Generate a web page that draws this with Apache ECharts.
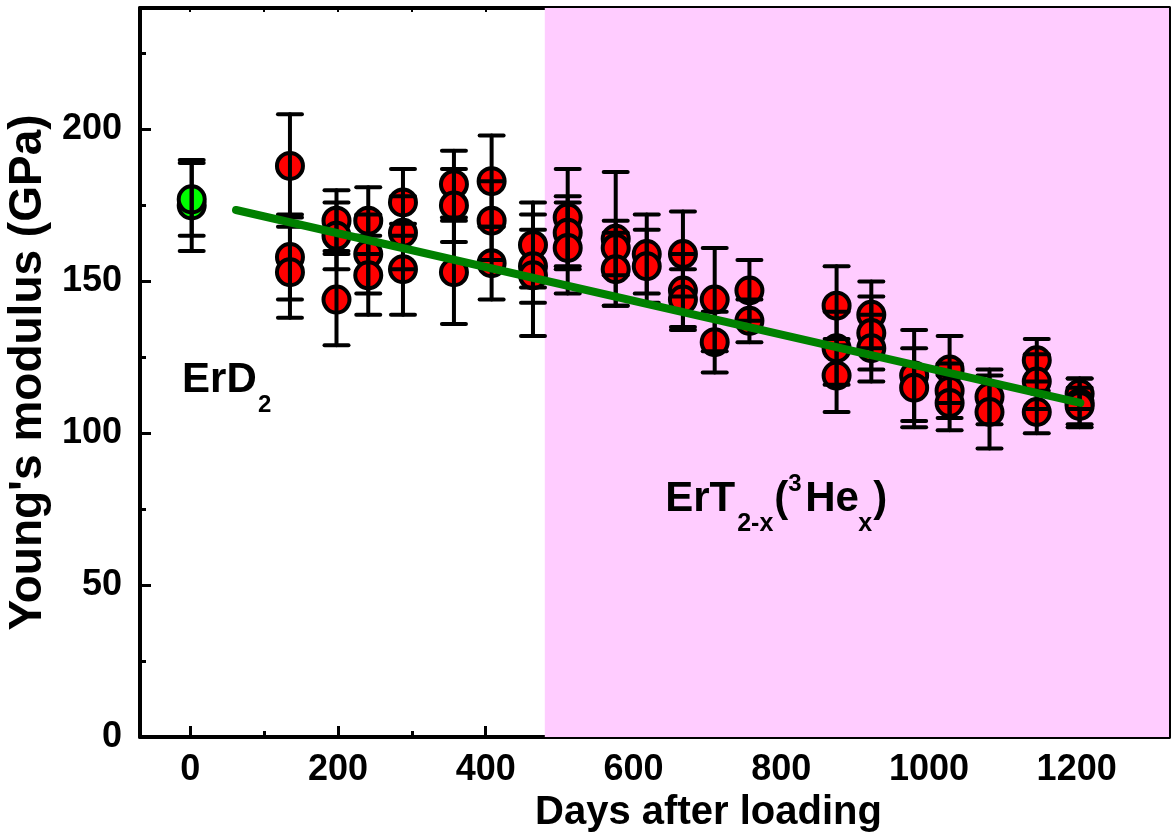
<!DOCTYPE html>
<html>
<head>
<meta charset="utf-8">
<script src="https://cdn.jsdelivr.net/npm/echarts@6/dist/echarts.min.js"></script>
<style>html,body{margin:0;padding:0;background:#fff}#c{width:1173px;height:837px}</style>
</head>
<body>
<div id="c"></div>
<script>
// ---- data ----
const redDays    = [135,135,135, 198,198,198, 241,241,241, 288,288,288, 357,357,357, 408,408,408, 464,464,464, 511,511,511, 576,576,576, 618,618, 667,667,667, 710,710, 757,757, 875,875,875, 922,922,922, 980,980, 1028,1028,1028, 1082,1082, 1146,1146,1146, 1204,1204,1204];
const redModulus = [188,158,153, 170,165,144, 170,159,152, 176,166,154, 182,175,153, 183,170,156, 162,155,152, 171,166,161, 164,161,154, 159,155, 159,147,144, 144,130, 147,137, 142,128,119, 139,133,128, 119,115, 121,114,110, 112,107, 124,117,107, 113,110,109];
const redErr     = [17,14,15, 10,11,15, 11,13,13, 11,12,15, 11,12,17, 15,13,12, 14,12,20, 16,12,15, 22,9,12, 13,12, 14,12,10, 17,10, 10,7, 13,12,12, 11,12,11, 15,13, 11,9,9, 9,12, 7,9,7, 5,8,6];
const refDays    = [2, 2];
const refModulus = [175, 177];
const refErr     = [15, 12];
const fitDays    = [62, 1205];
const fitModulus = [173.5, 110];
const xLabelVals = [0,200,400,600,800,1000,1200];
const xMinorVals = [100,300,500,700,900,1100,1300];
const xTopVals   = [0,100,200,300,400,500,600,700,800,900,1000,1100,1200,1300];
const yLabelVals = [0,50,100,150,200];
const yMinorVals = [25,75,125,175,225];
const tritiumStart = 480;

const X_MIN = -68, X_MAX = 1325, Y_MIN = 0, Y_MAX = 240;
const FONT = "'Liberation Sans', Arial, Helvetica, sans-serif";

const redPts = redDays.map((d,i)=>[d, redModulus[i]]);
const refPts = refDays.map((d,i)=>[d, refModulus[i]]);
const errData = redDays.map((d,i)=>[d, redModulus[i]-redErr[i], redModulus[i]+redErr[i]])
  .concat(refDays.map((d,i)=>[d, refModulus[i]-refErr[i], refModulus[i]+refErr[i]]));
const fitPts = fitDays.map((d,i)=>[d, fitModulus[i]]);

const chart = echarts.init(document.getElementById('c'), null, {renderer:'canvas'});
const plain = v => String(v);

const option = {
  animation:false,
  backgroundColor:'#fff',
  grid:{left:140, right:4, top:8, bottom:100, containLabel:false, outerBoundsMode:'none'},
  xAxis:[
    {type:'value', position:'bottom', min:X_MIN, max:X_MAX,
     axisLine:{show:true, onZero:false, lineStyle:{color:'#000', width:4}},
     axisTick:{show:true, inside:true, length:11, lineStyle:{color:'#000', width:3}, customValues:xLabelVals},
     axisLabel:{show:true, customValues:xLabelVals, formatter:plain, margin:15, color:'#000', fontSize:36, fontWeight:'bold', fontFamily:FONT},
     splitLine:{show:false},
     name:'Days after loading', nameLocation:'middle', nameGap:54,
     nameTextStyle:{color:'#000', fontSize:40, fontWeight:'bold', fontFamily:FONT, padding:[0,0,0,108]}},
    {type:'value', position:'bottom', min:X_MIN, max:X_MAX,
     axisLine:{show:false, onZero:false},
     axisTick:{show:true, inside:true, length:6, lineStyle:{color:'#000', width:3}, customValues:xMinorVals},
     axisLabel:{show:false}, splitLine:{show:false}},
    {type:'value', position:'top', min:X_MIN, max:X_MAX,
     axisLine:{show:true, onZero:false, lineStyle:{color:'#000', width:4}},
     axisTick:{show:true, inside:true, length:4, lineStyle:{color:'#000', width:2}, customValues:xTopVals},
     axisLabel:{show:false}, splitLine:{show:false}}
  ],
  yAxis:[
    {type:'value', position:'left', min:Y_MIN, max:Y_MAX,
     axisLine:{show:true, onZero:false, lineStyle:{color:'#000', width:4}},
     axisTick:{show:true, inside:true, length:11, lineStyle:{color:'#000', width:3}, customValues:yLabelVals},
     axisLabel:{show:true, customValues:yLabelVals, formatter:plain, margin:18, color:'#000', fontSize:36, fontWeight:'bold', fontFamily:FONT},
     splitLine:{show:false},
     name:"Young's modulus (GPa)", nameLocation:'middle', nameGap:76, nameRotate:90,
     nameTextStyle:{color:'#000', fontSize:46, fontWeight:'bold', fontFamily:FONT}},
    {type:'value', position:'left', min:Y_MIN, max:Y_MAX,
     axisLine:{show:false, onZero:false},
     axisTick:{show:true, inside:true, length:6, lineStyle:{color:'#000', width:3}, customValues:yMinorVals},
     axisLabel:{show:false}, splitLine:{show:false}},
    {type:'value', position:'right', min:Y_MIN, max:Y_MAX,
     axisLine:{show:true, onZero:false, lineStyle:{color:'#000', width:4}},
     axisTick:{show:false}, axisLabel:{show:false}, splitLine:{show:false}}
  ],
  series:[
    {type:'scatter', name:'ErT', xAxisIndex:0, yAxisIndex:0, data:redPts, symbol:'circle', symbolSize:26, z:3,
     itemStyle:{color:'#ff0000', borderColor:'#000', borderWidth:4, opacity:1},
     markArea:{silent:true, itemStyle:{color:'#ffccff'}, data:[[{xAxis:tritiumStart},{xAxis:X_MAX}]]}},
    {type:'scatter', name:'ErD', xAxisIndex:0, yAxisIndex:0, data:refPts, symbol:'circle', symbolSize:26, z:3,
     itemStyle:{color:'#00ff00', borderColor:'#000', borderWidth:4, opacity:1}},
    {type:'custom', name:'err', xAxisIndex:0, yAxisIndex:0, data:errData, z:4,
     renderItem:function(params, api){
       const x = api.value(0), lo = api.value(1), hi = api.value(2);
       const a = api.coord([x, lo]), b = api.coord([x, hi]);
       const hw = 12;
       const st = {stroke:'#000', lineWidth:4, lineCap:'round'};
       return {type:'group', children:[
         {type:'line', shape:{x1:a[0], y1:a[1], x2:b[0], y2:b[1]}, style:st},
         {type:'line', shape:{x1:a[0]-hw, y1:a[1], x2:a[0]+hw, y2:a[1]}, style:st},
         {type:'line', shape:{x1:b[0]-hw, y1:b[1], x2:b[0]+hw, y2:b[1]}, style:st}
       ]};
     }},
    {type:'line', name:'fit', xAxisIndex:0, yAxisIndex:0, data:fitPts, symbol:'none', z:5,
     lineStyle:{color:'#008000', width:8, cap:'round'}}
  ]
};
chart.setOption(option);

// ---- annotations, anchored in data coordinates ----
function txt(px, py, text, size){
  // px = left x, py = baseline y
  return {type:'text', x:px, y:py - 0.33*size, z:100,
    style:{text:text, fill:'#000', fontSize:size, fontWeight:'bold', fontFamily:FONT, align:'left', verticalAlign:'middle'}};
}
const erd = chart.convertToPixel({gridIndex:0}, [-11, 112.7]);
const ert = chart.convertToPixel({gridIndex:0}, [643, 73.8]);
chart.setOption({graphic:[
  txt(erd[0], erd[1], 'ErD', 42),
  txt(erd[0]+76, erd[1]+19, '2', 24),
  txt(ert[0], ert[1], 'ErT', 42),
  txt(ert[0]+72, ert[1]+20, '2-x', 25),
  txt(ert[0]+109, ert[1], '(', 42),
  txt(ert[0]+123, ert[1]-21, '3', 24),
  txt(ert[0]+140, ert[1], 'He', 42),
  txt(ert[0]+193, ert[1]+20, 'x', 25),
  txt(ert[0]+208, ert[1], ')', 42)
]});
</script>
</body>
</html>
